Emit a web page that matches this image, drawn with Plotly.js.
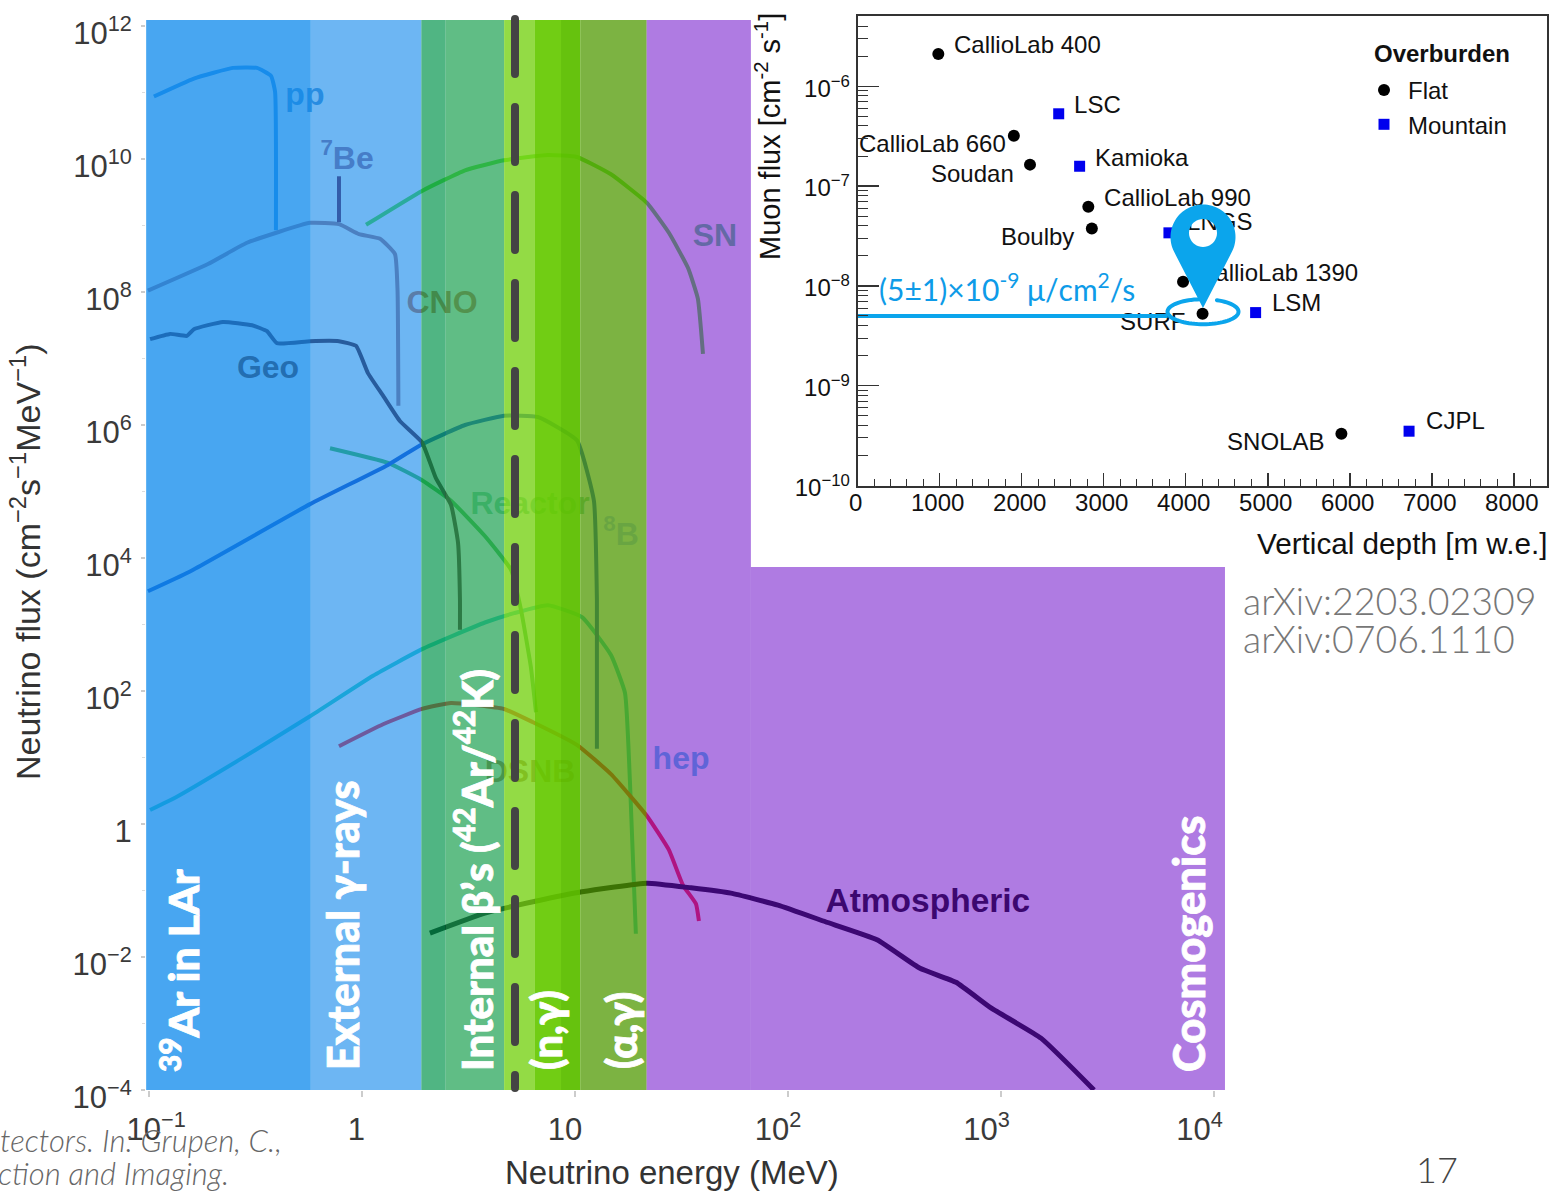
<!DOCTYPE html>
<html>
<head>
<meta charset="utf-8">
<script src="https://cdn.plot.ly/plotly-3.0.1.min.js"></script>
<style>
html,body{margin:0;padding:0;background:#fff;overflow:hidden}
#chart{width:1551px;height:1191px}
.shapelayer path{stroke-linecap:round}
.annotation-text[style*="rgb(255, 255, 255)"]{stroke:#fff;stroke-width:0.8px}
</style>
</head>
<body>
<div id="chart"></div>
<script>
// ---------- neutrino spectra: log10(E / MeV) and log10(flux) ----------
const ppE=[-0.977,-0.789,-0.606,-0.493,-0.427,-0.408,-0.404];
const ppF=[10.94,11.21,11.37,11.37,11.25,11.01,8.93];
const be7E=[-0.108,-0.108];
const be7F=[9.74,9.05];
const cnoE=[-1.005,-0.723,-0.540,-0.244,-0.108,-0.014,0.085,0.155,0.167,0.171];
const cnoF=[8.02,8.42,8.74,9.04,9.02,8.87,8.80,8.57,8.02,6.29];
const geoE=[-0.995,-0.901,-0.822,-0.789,-0.653,-0.516,-0.446,-0.399,-0.244,-0.108,-0.028,0.028,0.099,0.178,0.282,0.347,0.418,0.451,0.460,0.460];
const geoF=[7.29,7.37,7.34,7.44,7.55,7.50,7.41,7.23,7.26,7.26,7.19,6.78,6.44,6.06,5.74,5.20,4.80,4.23,3.37,2.92];
const b8E=[-1.005,-0.812,-0.244,0.122,0.282,0.484,0.667,0.826,1.009,1.089,1.103,1.103];
const b8F=[3.50,3.79,4.81,5.40,5.71,6.00,6.14,6.12,5.77,4.86,3.37,1.13];
const reactorE=[-0.150,0.122,0.282,0.418,0.577,0.700,0.746,0.793,0.817];
const reactorF=[5.65,5.43,5.17,4.86,4.33,3.82,3.23,2.36,1.68];
const tealE=[-0.995,-0.869,-0.563,-0.244,0.052,0.282,0.577,0.714,0.873,1.033,1.169,1.235,1.258,1.286];
const tealF=[0.21,0.41,0.99,1.62,2.23,2.63,3.03,3.17,3.29,3.11,2.54,1.97,0.65,-1.65];
const dsnbE=[-0.108,0.099,0.282,0.418,0.667,0.803,1.009,1.169,1.338,1.441,1.507,1.568,1.582];
const dsnbF=[1.17,1.50,1.73,1.82,1.73,1.53,1.19,0.75,0.12,-0.39,-0.92,-1.20,-1.46];
const snE=[0.019,0.282,0.484,0.667,0.873,1.009,1.169,1.338,1.441,1.531,1.577,1.601];
const snF=[9.01,9.52,9.83,9.98,10.06,10.03,9.77,9.34,8.89,8.36,7.90,7.07];
const atmE=[0.319,0.577,0.803,1.033,1.338,1.545,1.732,1.953,2.176,2.418,2.620,2.789,2.955,3.188,3.437];
const atmF=[-1.64,-1.34,-1.17,-1.02,-0.89,-0.96,-1.04,-1.22,-1.47,-1.74,-2.17,-2.38,-2.77,-3.22,-4.00];

// curve labels: text and log10 position
const curveLabels=['pp','<sup>7</sup>Be','CNO','Geo','Reactor','<sup>8</sup>B','hep','DSNB','SN','Atmospheric'];
const curveLabelE=[-0.268,-0.070,0.376,-0.441,0.789,1.216,1.498,0.789,1.657,2.657];
const curveLabelF=[10.93,9.975,7.80,6.83,4.78,4.32,0.95,0.75,8.81,-1.20];

// background bands: edges in MeV
const bandEdges=[0.097,0.575,1.90,2.47,4.65,6.49,8.6,10.6,21.7];
const bandColors=['rgba(11,136,236,0.75)','rgba(12,133,235,0.6)','rgba(5,149,78,0.7)','rgba(28,161,81,0.7)','rgba(120,210,22,0.8)','rgba(102,201,2,0.93)','rgba(94,191,1,0.95)','rgba(80,154,3,0.75)'];
const purpleBand='rgba(110,15,202,0.55)';
const purpleEdges=[21.7,67,11270];
const purpleFluxCut=7328;
const dashedEnergy=[5.23];

// muon flux inset
const flatNames=['CallioLab 400','CallioLab 660','Soudan','CallioLab 990','Boulby','CallioLab 1390','SURF','SNOLAB'];
const flatDepth=[983,1904,2101,2812,2855,3967,4205,5898];
const flatFlux=[2.1e-6,3.2e-7,1.64e-7,6.2e-8,3.75e-8,1.1e-8,5.26e-9,3.3e-10];
const mountainNames=['LSC','Kamioka','LNGS','LSM','CJPL'];
const mountainDepth=[2451,2706,3795,4852,6723];
const mountainFlux=[5.3e-7,1.58e-7,3.4e-8,5.4e-9,3.5e-10];
const siteLabels=['CallioLab 400','LSC','CallioLab 660','Soudan','Kamioka','CallioLab 990','LNGS','Boulby','CallioLab 1390','LSM','SURF','SNOLAB','CJPL'];
const siteLabelDepth=[1174,2638,16,894,2894,3004,4016,1747,4150,5052,3199,4504,6931];
const siteLabelFlux=[2.48e-6,6.2e-7,2.53e-7,1.27e-7,1.83e-7,7.26e-8,4.2e-8,2.96e-8,1.29e-8,6.45e-9,4.16e-9,2.61e-10,4.23e-10];
const surfFlux=5e-9;
const surfLineDepth=[0,3780];

// tick labels
const mainXTicks=[0.1,1,10,100,1000,10000];
const mainXText=['\u00A0\u00A0\u00A0\u00A010<sup>−1</sup>','\u00A01','10','10<sup>2</sup>','10<sup>3</sup>\u00A0','10<sup>4</sup>\u00A0'];
const mainYTicks=[1e-4,1e-2,1,1e2,1e4,1e6,1e8,1e10,1e12];
const mainYText=['10<sup>−4</sup>','10<sup>−2</sup>','1','10<sup>2</sup>','10<sup>4</sup>','10<sup>6</sup>','10<sup>8</sup>','10<sup>10</sup>','10<sup>12</sup>'];
const insetYTicks=[1e-10,1e-9,1e-8,1e-7,1e-6];
const insetYText=['10<sup>−10</sup>','10<sup>−9</sup>','10<sup>−8</sup>','10<sup>−7</sup>','10<sup>−6</sup>'];
const insetXTicks=[0,1000,2000,3000,4000,5000,6000,7000,8000];

// ---------- styles and helpers ----------
const W=1551,H=1191;
const FONT='"Liberation Sans", Arial, sans-serif';
const LATO='Lato, "Open Sans", sans-serif';
const px=v=>v/W, py=v=>1-v/H;
const pow=a=>a.map(v=>Math.pow(10,v));
const curve=(e,f,color,width)=>({x:pow(e),y:pow(f),xaxis:'x',yaxis:'y',mode:'lines',type:'scatter',
  line:{color:color,width:width||4,shape:'spline',smoothing:0.4},hoverinfo:'skip',showlegend:false});
const curveLabelColors=['rgb(82,150,210)','rgb(157,112,147)','rgb(207,112,72)','rgb(108,32,0)','rgb(130,210,150)','rgb(180,200,255)','rgb(80,205,231)','rgb(167,123,77)','rgb(89,216,120)','rgb(0,0,0)'];
const curveLabelSizes=[32,32,32,32,32,32,32,32,32,33.5];

const traces=[
  curve(ppE,ppF,'rgb(60,150,230)'),
  curve(tealE,tealF,'rgb(48,212,192)'),
  curve(reactorE,reactorF,'rgb(70,190,70)'),
  curve(b8E,b8F,'rgb(30,80,200)'),
  curve(snE,snF,'rgb(89,227,42)'),
  curve(cnoE,cnoF,'rgb(170,120,130)'),
  curve(geoE,geoF,'rgb(80,30,40)'),
  curve(be7E,be7F,'rgb(110,30,70)'),
  curve(dsnbE,dsnbF,'rgb(255,27,42)'),
  curve(atmE,atmF,'rgb(0,0,10)',5),
  {x:pow(curveLabelE),y:pow(curveLabelF),text:curveLabels,mode:'text',type:'scatter',xaxis:'x',yaxis:'y',
   textposition:'middle center',cliponaxis:false,hoverinfo:'skip',showlegend:false,
   textfont:{family:FONT,size:curveLabelSizes,weight:700,color:curveLabelColors}},
  // inset
  {x:siteLabelDepth,y:siteLabelFlux,text:siteLabels,mode:'text',type:'scatter',xaxis:'x2',yaxis:'y2',
   textposition:'middle right',cliponaxis:false,hoverinfo:'skip',showlegend:false,
   textfont:{family:FONT,size:24,color:'#111'}},
  {x:surfLineDepth,y:surfLineDepth.map(()=>surfFlux),mode:'lines',type:'scatter',xaxis:'x2',yaxis:'y2',
   line:{color:'#0BA5EC',width:4},hoverinfo:'skip',showlegend:false},
  {x:flatDepth,y:flatFlux,text:flatNames,name:'Flat',legendgroup:'flat',mode:'markers',type:'scatter',xaxis:'x2',yaxis:'y2',
   marker:{color:'#000',size:12,symbol:'circle'},cliponaxis:false},
  {x:mountainDepth,y:mountainFlux,text:mountainNames,name:'Mountain',legendgroup:'mountain',mode:'markers',type:'scatter',xaxis:'x2',yaxis:'y2',
   marker:{color:'#0000EE',size:11,symbol:'square'},cliponaxis:false}
];

// ---------- shapes ----------
const shapes=[];
bandColors.forEach((c,i)=>shapes.push({type:'rect',layer:'above',xref:'x',yref:'y',
  x0:bandEdges[i],x1:bandEdges[i+1],y0:1e-4,y1:Math.pow(10,12.09),fillcolor:c,line:{width:0}}));
shapes.push({type:'rect',layer:'above',xref:'x',yref:'y',x0:purpleEdges[0],x1:purpleEdges[1],y0:1e-4,y1:Math.pow(10,12.09),fillcolor:purpleBand,line:{width:0}});
shapes.push({type:'rect',layer:'above',xref:'x',yref:'y',x0:purpleEdges[1],x1:purpleEdges[2],y0:1e-4,y1:purpleFluxCut,fillcolor:purpleBand,line:{width:0}});
// dashed threshold line
shapes.push({type:'line',layer:'above',xref:'x',yref:'paper',x0:dashedEnergy[0],x1:dashedEnergy[0],y0:py(19),y1:py(1088),
  line:{color:'#444',width:8,dash:'55px,33px'}});
// ellipse round SURF
const arc=(cx,cy,rx,ry,a0,a1,n)=>{const p=[];for(let i=0;i<=n;i++){const t=(a0+(a1-a0)*i/n)*Math.PI/180;p.push([cx+rx*Math.cos(t),cy+ry*Math.sin(t)]);}return p;};
const toPath=(pts,close)=>pts.map((p,i)=>(i?'L':'M')+px(p[0]).toFixed(5)+','+py(p[1]).toFixed(5)).join(' ')+(close?' Z':'');
shapes.push({type:'path',layer:'above',xref:'paper',yref:'paper',path:toPath(arc(1203,311.7,35.5,12.5,-67,265,70),false),
  line:{color:'#0BA5EC',width:4},fillcolor:'rgba(0,0,0,0)'});
// map pin
const pinOuter=arc(1203,237,32.5,32.5,27.7,-207.7,60).concat([[1203,308]]);
const pinHole=arc(1203,233,14,14,0,360,40);
shapes.push({type:'path',layer:'above',xref:'paper',yref:'paper',fillrule:'evenodd',
  path:toPath(pinOuter,true)+' '+toPath(pinHole,true),fillcolor:'#0BA5EC',line:{width:0}});

// ---------- annotations ----------
const note=(text,x,y,size,color,extra)=>Object.assign({text:text,xref:'paper',yref:'paper',x:px(x),y:py(y),showarrow:false,
  xanchor:'center',yanchor:'middle',font:{family:FONT,size:size,color:color}},extra||{});
const white=(text,x,y,size)=>note(text,x,y,size,'#fff',{textangle:-90,font:{family:LATO,size:size,color:'#fff',weight:900}});
const annotations=[
  white('<sup>39</sup>Ar in LAr',180,971,42.5),
  white('External γ-rays',342,925,43),
  white('Internal β’s (<sup>42</sup>Ar/<sup>42</sup>K)',474,870,42),
  white('(n,γ)',546,1030,41.5),
  white('(α,γ)',621,1031,41.5),
  white('Cosmogenics',1188,944,43.5),
  note('Neutrino flux (cm<sup>−2</sup>s<sup>−1</sup>MeV<sup>−1</sup>)',25,562,34,'#333',{textangle:-90}),
  note('Neutrino energy (MeV)',672,1172,33,'#333'),
  note('Muon flux [cm<sup>-2</sup> s<sup>-1</sup>]',768,137,29,'#111',{textangle:-90}),
  note('Vertical depth [m w.e.]',1549,543,29.7,'#111',{xanchor:'right'}),
  note('<b>Overburden</b>',1372,53,24,'#111',{xanchor:'left'}),
  note('(5±1)×10<sup>-9</sup> μ/cm<sup>2</sup>/s',877,287,30,'#0E9BE8',{xanchor:'left',font:{family:LATO,size:30,color:'#0E9BE8'}}),
  note('arXiv:2203.02309',1241,600,37.5,'#777',{xanchor:'left',font:{family:LATO,size:37.5,color:'#777',weight:300}}),
  note('arXiv:0706.1110',1241,638,37.5,'#777',{xanchor:'left',font:{family:LATO,size:37.5,color:'#777',weight:300}}),
  note('17',1437,1169,36,'#444',{font:{family:LATO,size:36,color:'#444',weight:300}}),
  note('<i>tectors. In: Grupen, C.,</i>',284,1140,31,'#666',{xanchor:'right',font:{family:LATO,size:31,color:'#666',weight:300}}),
  note('<i>ction and Imaging.</i>',231,1173,31,'#666',{xanchor:'right',font:{family:LATO,size:31,color:'#666',weight:300}})
];

// ---------- axes ----------
const oddDecades=[1e-3,1e-1,10,1e3,1e5,1e7,1e9,1e11];
const insetMinorY=[];
for(let d=-10;d<-5;d++){for(let m=2;m<=9;m++){const v=m*Math.pow(10,d);if(v<5e-6)insetMinorY.push(v);}}
const insetMinorX=[];
for(let v=0;v<=8400;v+=200){if(v%1000!==0)insetMinorX.push(v);}

const layout={
  width:W,height:H,margin:{l:0,r:0,t:0,b:0,pad:0},paper_bgcolor:'#fff',plot_bgcolor:'rgba(0,0,0,0)',
  font:{family:FONT,color:'#333'},
  xaxis:{type:'log',domain:[px(146),px(1225)],range:[-1.014,4.052],anchor:'y',showgrid:false,zeroline:false,showline:false,
    tickmode:'array',tickvals:mainXTicks,ticktext:mainXText,ticks:'outside',ticklen:6,tickcolor:'#ccc',tickwidth:1.5,
    ticklabelshift:-10,ticklabelstandoff:6,tickfont:{family:FONT,size:31,color:'#3a3a3a'}},
  yaxis:{type:'log',domain:[1-1090/H,1-20/H],range:[-4,12.09],anchor:'x',showgrid:false,zeroline:false,showline:false,
    tickmode:'array',tickvals:mainYTicks,ticktext:mainYText,ticks:'outside',ticklen:4,tickcolor:'#ccc',tickwidth:1.5,
    minor:{tickmode:'array',tickvals:oddDecades,ticks:'outside',ticklen:3,tickcolor:'#ddd'},
    ticklabelshift:7,ticklabelstandoff:3,tickfont:{family:FONT,size:31,color:'#3a3a3a'}},
  xaxis2:{type:'linear',domain:[px(857.7),px(1547)],range:[0,8405],anchor:'y2',showgrid:false,zeroline:false,
    showline:true,mirror:true,linecolor:'#333',linewidth:2,
    tickmode:'array',tickvals:insetXTicks,ticks:'inside',ticklen:13,tickcolor:'#333',tickwidth:1.5,
    minor:{tickmode:'array',tickvals:insetMinorX,ticks:'inside',ticklen:7,tickcolor:'#333',tickwidth:1},
    ticklabelshift:-2,ticklabelstandoff:-5,tickfont:{family:FONT,size:24,color:'#111'}},
  yaxis2:{type:'log',domain:[1-485.5/H,1-16.4/H],range:[-10,-5.3],anchor:'x2',showgrid:false,zeroline:false,
    showline:true,mirror:true,linecolor:'#333',linewidth:2,
    tickmode:'array',tickvals:insetYTicks,ticktext:insetYText,ticks:'inside',ticklen:21,tickcolor:'#333',tickwidth:1.5,
    minor:{tickmode:'array',tickvals:insetMinorY,ticks:'inside',ticklen:10,tickcolor:'#333',tickwidth:1},
    ticklabelshift:2,ticklabelstandoff:1,tickfont:{family:FONT,size:24,color:'#111'}},
  showlegend:true,
  legend:{x:px(1360),y:py(68),xanchor:'left',yanchor:'top',bgcolor:'rgba(0,0,0,0)',borderwidth:0,
    font:{family:FONT,size:24,color:'#111'},traceorder:'grouped',tracegroupgap:0,itemwidth:38,itemclick:false,itemdoubleclick:false},
  shapes:shapes,annotations:annotations,hovermode:false
};
Plotly.newPlot('chart',traces,layout,{displayModeBar:false,staticPlot:true,responsive:false});
</script>
</body>
</html>
